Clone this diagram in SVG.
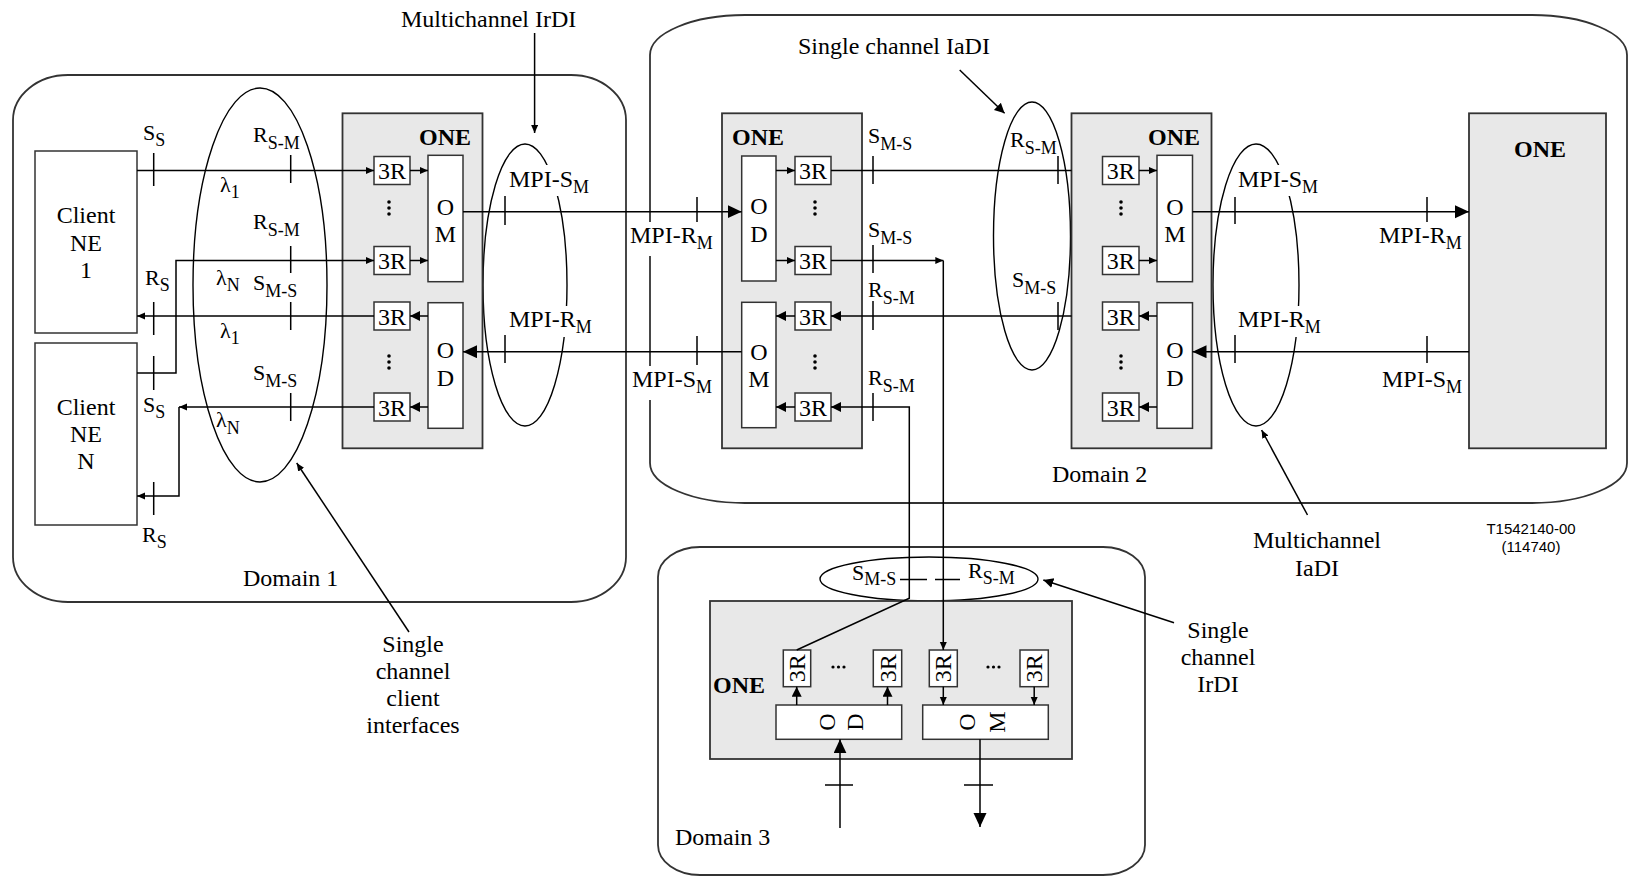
<svg xmlns="http://www.w3.org/2000/svg" width="1634" height="882" viewBox="0 0 1634 882">
<defs>
<style>
text{font-family:"Liberation Serif","Times New Roman",serif;font-size:24px;fill:#000}
.p{font-size:22px}
.sb{font-size:18px}
.bold{font-weight:bold}
.mid{text-anchor:middle}
.code{font-family:"Liberation Sans",Arial,sans-serif;font-size:15px}
.dom{fill:none;stroke:#333;stroke-width:1.8}
.one{fill:#e8e8e8;stroke:#333;stroke-width:1.8}
.bx{fill:#fff;stroke:#333;stroke-width:1.5}
.ell{fill:none;stroke:#000;stroke-width:1.4}
.ln{fill:none;stroke:#000;stroke-width:1.5}
.tk{stroke:#000;stroke-width:1.5;fill:none}
.mask{fill:#fff}
.dot{fill:#000}
</style>
<marker id="as" markerUnits="userSpaceOnUse" markerWidth="10" markerHeight="8" refX="8" refY="3.5" orient="auto"><path d="M0,0 L8,3.5 L0,7 z" fill="#000"/></marker>
<marker id="am" markerUnits="userSpaceOnUse" markerWidth="12" markerHeight="12" refX="10" refY="5" orient="auto"><path d="M0,0 L10,5 L0,10 z" fill="#000"/></marker>
<marker id="ab" markerUnits="userSpaceOnUse" markerWidth="16" markerHeight="15" refX="14" refY="6.5" orient="auto"><path d="M0,0 L14,6.5 L0,13 z" fill="#000"/></marker>
</defs>

<!-- Domains -->
<g id="domain1"><rect class="dom" x="13" y="75" width="613" height="527" rx="55" ry="45"/><text x="243" y="586">Domain 1</text></g>
<g id="domain2"><rect class="dom" x="650" y="15" width="977" height="488" rx="95" ry="40"/><text x="1052" y="482">Domain 2</text></g>
<g id="domain3"><rect class="dom" x="658" y="547" width="487" height="328" rx="42" ry="30"/><text x="675" y="845">Domain 3</text></g>

<!-- Interface ellipses -->
<g id="ellipses">
<ellipse class="ell" cx="260" cy="285" rx="67" ry="197"/>
<ellipse class="ell" cx="525" cy="285" rx="42" ry="141"/>
<ellipse class="ell" cx="1032" cy="236" rx="38.5" ry="134"/>
<ellipse class="ell" cx="1256" cy="285" rx="43" ry="141"/>
<ellipse class="ell" cx="929" cy="579" rx="109" ry="22"/>
</g>
<g id="masks">
<rect class="mask" x="506" y="165" width="86" height="31"/>
<rect class="mask" x="506" y="306" width="88" height="31"/>
<rect class="mask" x="629" y="222" width="86" height="34"/>
<rect class="mask" x="629" y="366" width="86" height="34"/>
<rect class="mask" x="1236" y="165" width="86" height="31"/>
<rect class="mask" x="1236" y="306" width="88" height="31"/>
</g>

<!-- Client NEs -->
<g id="client1"><rect class="bx" x="35" y="151" width="102" height="182"/>
<text class="mid" x="86" y="223">Client</text><text class="mid" x="86" y="251">NE</text><text class="mid" x="86" y="278">1</text></g>
<g id="clientN"><rect class="bx" x="35" y="343" width="102" height="182"/>
<text class="mid" x="86" y="415">Client</text><text class="mid" x="86" y="442">NE</text><text class="mid" x="86" y="469">N</text></g>

<!-- ONE Domain 1 -->
<g id="one1">
<rect class="one" x="342.5" y="113.3" width="140" height="335"/>
<text class="bold" x="419" y="145">ONE</text>
<rect class="bx" x="374" y="156.5" width="36" height="28"/><text class="mid" x="392" y="179">3R</text>
<rect class="bx" x="374" y="246.5" width="36" height="28"/><text class="mid" x="392" y="269">3R</text>
<rect class="bx" x="374" y="302" width="36" height="28"/><text class="mid" x="392" y="324.5">3R</text>
<rect class="bx" x="374" y="393" width="36" height="28"/><text class="mid" x="392" y="415.5">3R</text>
<rect class="bx" x="428" y="155.3" width="35" height="126.4"/><text class="mid" x="445.5" y="215">O</text><text class="mid" x="445.5" y="242">M</text>
<rect class="bx" x="428" y="302.7" width="35" height="125.6"/><text class="mid" x="445.5" y="358">O</text><text class="mid" x="445.5" y="386">D</text>
<circle class="dot" cx="389" cy="202" r="1.8"/><circle class="dot" cx="389" cy="208" r="1.8"/><circle class="dot" cx="389" cy="214" r="1.8"/>
<circle class="dot" cx="389" cy="356" r="1.8"/><circle class="dot" cx="389" cy="362" r="1.8"/><circle class="dot" cx="389" cy="368" r="1.8"/>
</g>

<!-- ONE Domain 2 left -->
<g id="one2a">
<rect class="one" x="722" y="113.3" width="140" height="335"/>
<text class="bold" x="732" y="145">ONE</text>
<rect class="bx" x="741.7" y="156" width="34.3" height="125"/><text class="mid" x="759" y="214">O</text><text class="mid" x="759" y="242">D</text>
<rect class="bx" x="741.7" y="302.3" width="34.3" height="125.4"/><text class="mid" x="759" y="360">O</text><text class="mid" x="759" y="387">M</text>
<rect class="bx" x="795" y="156.5" width="36" height="28"/><text class="mid" x="813" y="179">3R</text>
<rect class="bx" x="795" y="246.5" width="36" height="28"/><text class="mid" x="813" y="269">3R</text>
<rect class="bx" x="795" y="302" width="36" height="28"/><text class="mid" x="813" y="324.5">3R</text>
<rect class="bx" x="795" y="393" width="36" height="28"/><text class="mid" x="813" y="415.5">3R</text>
<circle class="dot" cx="815" cy="202" r="1.8"/><circle class="dot" cx="815" cy="208" r="1.8"/><circle class="dot" cx="815" cy="214" r="1.8"/>
<circle class="dot" cx="815" cy="356" r="1.8"/><circle class="dot" cx="815" cy="362" r="1.8"/><circle class="dot" cx="815" cy="368" r="1.8"/>
</g>

<!-- ONE Domain 2 middle -->
<g id="one2b">
<rect class="one" x="1071.5" y="113.3" width="140" height="335"/>
<text class="bold" x="1148" y="145">ONE</text>
<rect class="bx" x="1102.5" y="156.5" width="36.5" height="28"/><text class="mid" x="1120.8" y="179">3R</text>
<rect class="bx" x="1102.5" y="246.5" width="36.5" height="28"/><text class="mid" x="1120.8" y="269">3R</text>
<rect class="bx" x="1102.5" y="302" width="36.5" height="28"/><text class="mid" x="1120.8" y="324.5">3R</text>
<rect class="bx" x="1102.5" y="393" width="36.5" height="28"/><text class="mid" x="1120.8" y="415.5">3R</text>
<rect class="bx" x="1157" y="155.3" width="35.5" height="126.4"/><text class="mid" x="1174.8" y="215">O</text><text class="mid" x="1174.8" y="242">M</text>
<rect class="bx" x="1157" y="302.7" width="35.5" height="125.6"/><text class="mid" x="1174.8" y="358">O</text><text class="mid" x="1174.8" y="386">D</text>
<circle class="dot" cx="1121" cy="202" r="1.8"/><circle class="dot" cx="1121" cy="208" r="1.8"/><circle class="dot" cx="1121" cy="214" r="1.8"/>
<circle class="dot" cx="1121" cy="356" r="1.8"/><circle class="dot" cx="1121" cy="362" r="1.8"/><circle class="dot" cx="1121" cy="368" r="1.8"/>
</g>

<!-- ONE Domain 2 right -->
<g id="one2c">
<rect class="one" x="1469" y="113.3" width="137" height="335"/>
<text class="bold" x="1514" y="157">ONE</text>
</g>

<!-- ONE Domain 3 -->
<g id="one3">
<rect class="one" x="710" y="601" width="362" height="158"/>
<text class="bold" x="713" y="693">ONE</text>
<rect class="bx" x="783.3" y="650" width="27.4" height="36.7"/><text class="mid" transform="translate(797,668.3) rotate(-90)" y="8">3R</text>
<rect class="bx" x="873.3" y="650" width="28.4" height="36.7"/><text class="mid" transform="translate(887.5,668.3) rotate(-90)" y="8">3R</text>
<rect class="bx" x="929.3" y="650" width="28" height="36.7"/><text class="mid" transform="translate(943.3,668.3) rotate(-90)" y="8">3R</text>
<rect class="bx" x="1020" y="650" width="28.3" height="36.7"/><text class="mid" transform="translate(1034.2,668.3) rotate(-90)" y="8">3R</text>
<circle class="dot" cx="833" cy="667" r="1.6"/><circle class="dot" cx="838.5" cy="667" r="1.6"/><circle class="dot" cx="844" cy="667" r="1.6"/>
<circle class="dot" cx="988" cy="667" r="1.6"/><circle class="dot" cx="993.5" cy="667" r="1.6"/><circle class="dot" cx="999" cy="667" r="1.6"/>
<rect class="bx" x="776" y="705" width="125.7" height="34.3"/>
<text class="mid" transform="translate(826.7,722) rotate(-90)" y="8">O</text>
<text class="mid" transform="translate(855,722) rotate(-90)" y="8">D</text>
<rect class="bx" x="922.7" y="705" width="125.6" height="34.3"/>
<text class="mid" transform="translate(966.7,722) rotate(-90)" y="8">O</text>
<text class="mid" transform="translate(996.7,722) rotate(-90)" y="8">M</text>
</g>

<!-- Connectors -->
<g id="connectors">
<path class="ln" d="M137,170.5 H374" marker-end="url(#as)"/>
<path class="ln" d="M410,170.5 H428" marker-end="url(#as)"/>
<path class="ln" d="M137,373 H176 V260.5 H374" marker-end="url(#as)"/>
<path class="ln" d="M410,260.5 H428" marker-end="url(#as)"/>
<path class="ln" d="M428,316 H410" marker-end="url(#am)"/>
<path class="ln" d="M374,316 H137" marker-end="url(#as)"/>
<path class="ln" d="M428,407 H410" marker-end="url(#am)"/>
<path class="ln" d="M374,407 H179" marker-end="url(#as)"/>
<path class="ln" d="M179,407 V496 H137" marker-end="url(#as)"/>

<path class="ln" d="M463,211.7 H741.7" marker-end="url(#ab)"/>
<path class="ln" d="M741.7,351.7 H463" marker-end="url(#ab)"/>

<path class="ln" d="M776,170.5 H795" marker-end="url(#as)"/>
<path class="ln" d="M776,260.5 H795" marker-end="url(#as)"/>
<path class="ln" d="M795,316 H776" marker-end="url(#am)"/>
<path class="ln" d="M795,407 H776" marker-end="url(#am)"/>
<path class="ln" d="M831,170.5 H1071.5"/>
<path class="ln" d="M831,260.5 H943.3" marker-end="url(#as)"/>
<path class="ln" d="M943.3,260.5 V650" marker-end="url(#as)"/>
<path class="ln" d="M1071.5,316 H831" marker-end="url(#am)"/>
<path class="ln" d="M796.7,650 L909.3,598.3 V407 H831" marker-end="url(#am)"/>

<path class="ln" d="M1139,170.5 H1157" marker-end="url(#as)"/>
<path class="ln" d="M1139,260.5 H1157" marker-end="url(#as)"/>
<path class="ln" d="M1157,316 H1139" marker-end="url(#am)"/>
<path class="ln" d="M1157,407 H1139" marker-end="url(#am)"/>
<path class="ln" d="M1192.5,211.7 H1469" marker-end="url(#ab)"/>
<path class="ln" d="M1469,351.7 H1192.5" marker-end="url(#ab)"/>

<path class="ln" d="M796.7,705 V686.7" marker-end="url(#am)"/>
<path class="ln" d="M887.5,705 V686.7" marker-end="url(#am)"/>
<path class="ln" d="M943.3,686.7 V705" marker-end="url(#as)"/>
<path class="ln" d="M1034.2,686.7 V705" marker-end="url(#as)"/>
<path class="ln" d="M840,828 V739.3" marker-end="url(#ab)"/>
<path class="ln" d="M980,739.3 V827" marker-end="url(#ab)"/>

<!-- ticks -->
<path class="tk" d="M153.7,153 V186 M153.7,302 V335 M153.7,356 V390 M153.7,482 V515"/>
<path class="tk" d="M290.7,155 V183 M290.7,246 V273 M290.7,302 V330 M290.7,393 V421"/>
<path class="tk" d="M505,196 V225 M505,335 V363 M697,197 V222 M697,336 V365"/>
<path class="tk" d="M873,156 V184 M873,245 V273 M873,301 V330 M873,393 V421"/>
<path class="tk" d="M1058,156 V184 M1058,302 V330"/>
<path class="tk" d="M1235,197 V224 M1235,335 V363 M1427,197 V222 M1427,336 V363"/>
<path class="tk" d="M825,785 H853 M964,785 H993"/>
<path class="tk" d="M900,579.5 H927 M935,579.5 H960"/>

<!-- annotation arrows -->
<path class="ln" d="M534.6,33 V133" marker-end="url(#as)"/>
<path class="ln" d="M959.7,70 L1004.6,113.3" marker-end="url(#am)"/>
<path class="ln" d="M409,632 L296.7,463" marker-end="url(#as)"/>
<path class="ln" d="M1307.5,515 L1261.6,430" marker-end="url(#as)"/>
<path class="ln" d="M1174,622.7 L1043.3,580" marker-end="url(#am)"/>
</g>

<!-- Labels -->
<g id="labels">
<text class="p" x="143" y="140">S<tspan class="sb" dy="6">S</tspan></text>
<text class="p" x="253" y="142">R<tspan class="sb" dy="7">S-M</tspan></text>
<text class="p" x="220" y="192">λ<tspan class="sb" dy="6">1</tspan></text>
<text class="p" x="253" y="229">R<tspan class="sb" dy="7">S-M</tspan></text>
<text class="p" x="145" y="285">R<tspan class="sb" dy="6">S</tspan></text>
<text class="p" x="216" y="285">λ<tspan class="sb" dy="6">N</tspan></text>
<text class="p" x="253" y="290">S<tspan class="sb" dy="7">M-S</tspan></text>
<text class="p" x="220" y="338">λ<tspan class="sb" dy="6">1</tspan></text>
<text class="p" x="253" y="380">S<tspan class="sb" dy="7">M-S</tspan></text>
<text class="p" x="143" y="412">S<tspan class="sb" dy="6">S</tspan></text>
<text class="p" x="216" y="427">λ<tspan class="sb" dy="7">N</tspan></text>
<text class="p" x="142" y="542">R<tspan class="sb" dy="6">S</tspan></text>

<text class="p" x="868" y="143">S<tspan class="sb" dy="7">M-S</tspan></text>
<text class="p" x="868" y="237">S<tspan class="sb" dy="7">M-S</tspan></text>
<text class="p" x="868" y="297">R<tspan class="sb" dy="7">S-M</tspan></text>
<text class="p" x="868" y="385">R<tspan class="sb" dy="7">S-M</tspan></text>
<text class="p" x="1010" y="147">R<tspan class="sb" dy="7">S-M</tspan></text>
<text class="p" x="1012" y="287">S<tspan class="sb" dy="7">M-S</tspan></text>

<text x="509" y="187">MPI-S<tspan class="sb" dy="6">M</tspan></text>
<text x="509" y="327">MPI-R<tspan class="sb" dy="6">M</tspan></text>
<text x="630" y="243">MPI-R<tspan class="sb" dy="6">M</tspan></text>
<text x="632" y="387">MPI-S<tspan class="sb" dy="6">M</tspan></text>
<text x="1238" y="187">MPI-S<tspan class="sb" dy="6">M</tspan></text>
<text x="1238" y="327">MPI-R<tspan class="sb" dy="6">M</tspan></text>
<text x="1379" y="243">MPI-R<tspan class="sb" dy="6">M</tspan></text>
<text x="1382" y="387">MPI-S<tspan class="sb" dy="6">M</tspan></text>

<text class="p" x="852" y="580">S<tspan class="sb" dy="5">M-S</tspan></text>
<text class="p" x="968" y="578">R<tspan class="sb" dy="6">S-M</tspan></text>

<text x="401" y="27">Multichannel IrDI</text>
<text x="798" y="54">Single channel IaDI</text>
<text class="mid" x="413" y="652">Single</text>
<text class="mid" x="413" y="679">channel</text>
<text class="mid" x="413" y="706">client</text>
<text class="mid" x="413" y="733">interfaces</text>
<text class="mid" x="1317" y="548">Multichannel</text>
<text class="mid" x="1317" y="576">IaDI</text>
<text class="mid" x="1218" y="638">Single</text>
<text class="mid" x="1218" y="665">channel</text>
<text class="mid" x="1218" y="692">IrDI</text>
<text class="code mid" x="1531" y="534">T1542140-00</text>
<text class="code mid" x="1531" y="552">(114740)</text>
</g>
</svg>
